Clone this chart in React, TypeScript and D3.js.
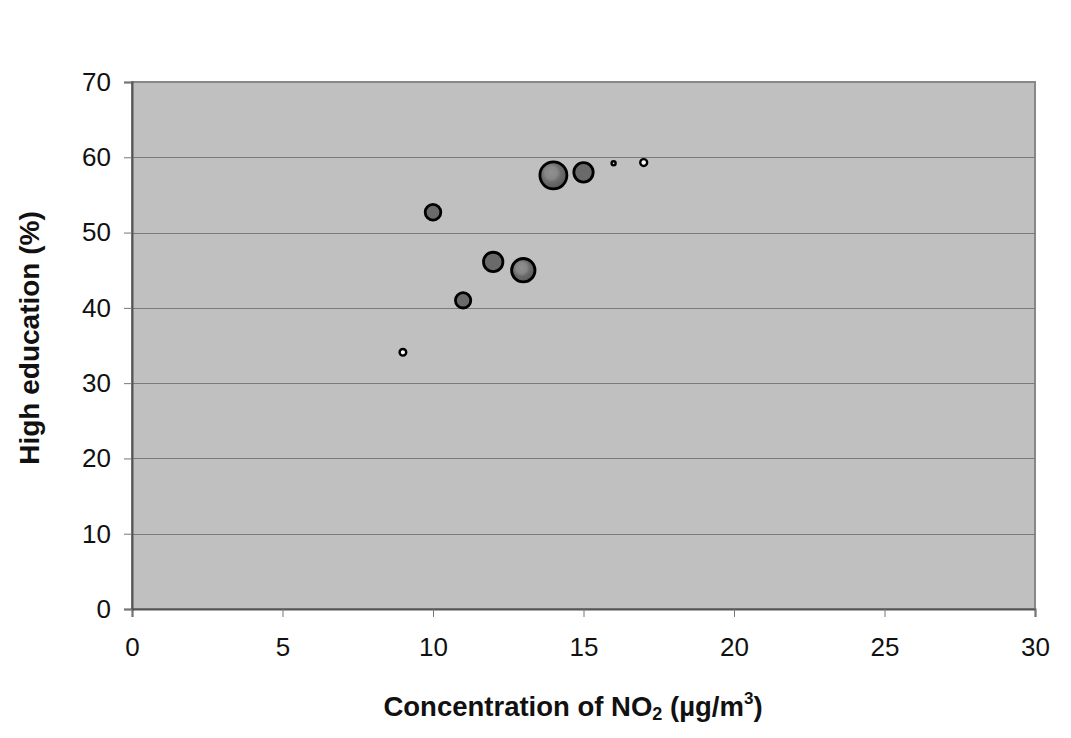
import React, { useEffect, useRef } from "react";
import * as d3 from "d3";

// NO2 concentration (µg/m3), share with high education (%), bubble size
const no2 = [9, 10, 11, 12, 13, 14, 15, 16, 17];
const highEdu = [34.1, 52.7, 41.0, 46.1, 45.0, 57.6, 58.0, 59.2, 59.3];
const sizes = [11, 61, 59, 94, 137, 182, 94, 4, 12];

const xTicks = [0, 5, 10, 15, 20, 25, 30];
const yTicks = [0, 10, 20, 30, 40, 50, 60, 70];

const App = () => {
  const ref = useRef<SVGSVGElement>(null);

  useEffect(() => {
    document.body.style.margin = "0";
    if (!ref.current) return;
    const svg = d3.select(ref.current);
    svg.selectAll("*").remove();

    const width = 1071;
    const height = 738;
    const m = { left: 132, right: 36, top: 82, bottom: 129 };
    const font = "Liberation Sans, Arial, sans-serif";

    const x = d3.scaleLinear().domain([0, 30]).range([m.left, width - m.right]);
    const y = d3.scaleLinear().domain([0, 70]).range([height - m.bottom, m.top]);
    const r = d3.scaleSqrt().domain([0, 182]).range([0, 13.5]);

    const defs = svg.append("defs");
    const grad = defs
      .append("radialGradient")
      .attr("id", "shade")
      .attr("cx", "42%")
      .attr("cy", "40%")
      .attr("r", "58%");
    grad.append("stop").attr("offset", "0%").attr("stop-color", "#909090");
    grad.append("stop").attr("offset", "40%").attr("stop-color", "#878787");
    grad.append("stop").attr("offset", "62%").attr("stop-color", "#6c6c6c");
    grad.append("stop").attr("offset", "100%").attr("stop-color", "#5c5c5c");

    // plot area
    svg
      .append("rect")
      .attr("x", x(0))
      .attr("y", y(70))
      .attr("width", x(30) - x(0))
      .attr("height", y(0) - y(70))
      .attr("fill", "#c0c0c0")
      .attr("stroke", "#888")
      .attr("stroke-width", 2);

    // grid lines
    svg
      .append("g")
      .selectAll("line")
      .data(yTicks.filter((t) => t > 0 && t < 70))
      .enter()
      .append("line")
      .attr("x1", x(0))
      .attr("x2", x(30))
      .attr("y1", (d) => Math.round(y(d)) + 0.5)
      .attr("y2", (d) => Math.round(y(d)) + 0.5)
      .attr("stroke", "#7a7a7a")
      .attr("stroke-width", 1);

    // axes
    const xAxis = svg
      .append("g")
      .attr("transform", `translate(0,${y(0)})`)
      .call(d3.axisBottom(x).tickValues(xTicks).tickSize(8).tickPadding(21));
    const yAxis = svg
      .append("g")
      .attr("transform", `translate(${x(0)},0)`)
      .call(d3.axisLeft(y).tickValues(yTicks).tickSize(8).tickPadding(13));

    [xAxis, yAxis].forEach((g) => {
      g.select(".domain").attr("stroke", "#555").attr("stroke-width", 2);
      g.selectAll(".tick line").attr("stroke", "#777").attr("stroke-width", 1);
      g.selectAll(".tick text")
        .attr("fill", "#111")
        .style("font-family", font)
        .style("font-size", "26px");
    });

    // bubbles
    const pts = no2.map((v, i) => ({ x: v, y: highEdu[i], s: sizes[i] }));
    svg
      .append("g")
      .selectAll("circle")
      .data(pts)
      .enter()
      .append("circle")
      .attr("cx", (d) => x(d.x))
      .attr("cy", (d) => y(d.y))
      .attr("r", (d) => r(d.s))
      .attr("fill", (d) => (d.s < 20 ? "#ffffff" : d.s >= 130 ? "url(#shade)" : "#6a6a6a"))
      .attr("stroke", "#000")
      .attr("stroke-width", (d) => (d.s < 20 ? 2.4 : 2.8));

    // axis titles
    const xt = svg
      .append("text")
      .attr("x", 573)
      .attr("y", 716)
      .attr("text-anchor", "middle")
      .style("font-family", font)
      .style("font-size", "27.5px")
      .style("font-weight", "bold")
      .attr("fill", "#111");
    xt.append("tspan").text("Concentration of NO");
    xt.append("tspan").attr("font-size", "18px").attr("dy", 4).text("2");
    xt.append("tspan").attr("dy", -4).text(" (µg/m");
    xt.append("tspan").attr("font-size", "17px").attr("dy", -12).text("3");
    xt.append("tspan").attr("dy", 12).text(")");

    svg
      .append("text")
      .attr("transform", `translate(39,338) rotate(-90)`)
      .attr("text-anchor", "middle")
      .style("font-family", font)
      .style("font-size", "28px")
      .style("font-weight", "bold")
      .attr("fill", "#111")
      .text("High education (%)");
  }, []);

  return <svg ref={ref} width="1071" height="738" style={{ display: "block", background: "#fff" }}></svg>;
};

export default App;
